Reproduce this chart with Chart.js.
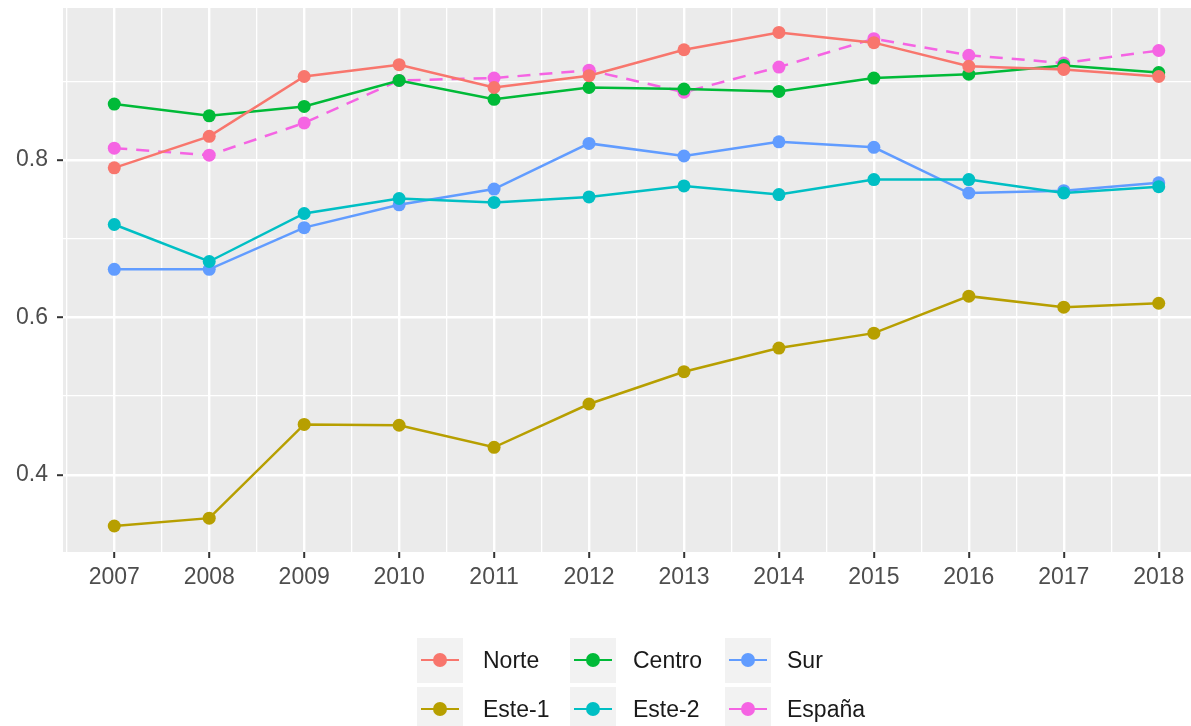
<!DOCTYPE html>
<html>
<head>
<meta charset="utf-8">
<script src="https://cdn.jsdelivr.net/npm/chart.js@4/dist/chart.umd.min.js"></script>
<style>
  html, body { margin: 0; padding: 0; background: #fff; }
  #wrap { position: relative; width: 1191px; height: 726px; overflow: hidden; font-family: "Liberation Sans", Arial, sans-serif; }
  #c { position: absolute; left: 0; top: 0; }
  .key { position: absolute; width: 46px; height: 45px; background: #F2F2F2; }
  .key .ln { position: absolute; left: 4px; right: 4px; top: 21px; height: 2px; }
  .key .dt { position: absolute; left: 16px; top: 15px; width: 14px; height: 14px; border-radius: 50%; }
  .lab { position: absolute; font-size: 23px; color: #1a1a1a; line-height: 26px; }
</style>
</head>
<body>
<div id="wrap">
  <canvas id="c" width="1191" height="726"></canvas>
  <div id="legend"></div>
</div>
<script>
const years = [2007, 2008, 2009, 2010, 2011, 2012, 2013, 2014, 2015, 2016, 2017, 2018];
const seriesNames = ["Norte", "Este-1", "Centro", "Este-2", "Sur", "España"];
const norte  = [0.790, 0.830, 0.906, 0.921, 0.892, 0.907, 0.940, 0.962, 0.949, 0.919, 0.915, 0.906];
const este1  = [0.335, 0.345, 0.464, 0.463, 0.435, 0.490, 0.531, 0.561, 0.580, 0.627, 0.613, 0.618];
const centro = [0.871, 0.856, 0.868, 0.901, 0.877, 0.892, 0.890, 0.887, 0.904, 0.909, 0.920, 0.911];
const este2  = [0.718, 0.671, 0.732, 0.751, 0.746, 0.753, 0.767, 0.756, 0.775, 0.775, 0.758, 0.766];
const sur    = [0.661, 0.661, 0.714, 0.743, 0.763, 0.821, 0.805, 0.823, 0.816, 0.758, 0.761, 0.771];
const espana = [0.815, 0.806, 0.847, 0.901, 0.904, 0.914, 0.886, 0.918, 0.954, 0.933, 0.923, 0.939];
const yMajorTicks = [0.4, 0.6, 0.8];
const yMinorTicks = [0.5, 0.7, 0.9];
const xMinorTicks = [2006.5, 2007.5, 2008.5, 2009.5, 2010.5, 2011.5, 2012.5, 2013.5, 2014.5, 2015.5, 2016.5, 2017.5];

const colors = {
  "Norte": "#F8766D", "Este-1": "#B79F00", "Centro": "#00BA38",
  "Este-2": "#00BFC4", "Sur": "#619CFF", "España": "#F564E3"
};
const values = { "Norte": norte, "Este-1": este1, "Centro": centro, "Este-2": este2, "Sur": sur, "España": espana };

const datasets = seriesNames.map(name => ({
  label: name,
  data: years.map((y, i) => ({ x: y, y: values[name][i] })),
  borderColor: colors[name],
  backgroundColor: colors[name],
  borderWidth: 2.5,
  pointRadius: 6.5,
  pointHoverRadius: 6.5,
  pointBorderWidth: 0,
  borderDash: name === "España" ? [13, 9] : [],
  tension: 0
}));

const panelBg = {
  id: 'panelBg',
  beforeDraw(chart) {
    const { ctx, chartArea: a } = chart;
    ctx.save();
    ctx.fillStyle = '#EBEBEB';
    ctx.fillRect(a.left, a.top, a.right - a.left, a.bottom - a.top);
    ctx.restore();
  }
};

const isMajorY = v => yMajorTicks.some(t => Math.abs(t - v) < 1e-6);
const isMajorX = v => Math.abs(v - Math.round(v)) < 1e-6;
const noPad = s => { s.paddingTop = 0; s.paddingBottom = 0; s.paddingLeft = 0; s.paddingRight = 0; };

new Chart(document.getElementById('c'), {
  type: 'line',
  data: { datasets },
  plugins: [panelBg],
  options: {
    responsive: false,
    animation: false,
    layout: { autoPadding: false, padding: { left: 0, right: 0, top: 8, bottom: 134 } },
    plugins: { legend: { display: false }, tooltip: { enabled: false } },
    scales: {
      x: {
        type: 'linear',
        min: 2006.46, max: 2018.34,
        afterBuildTicks: s => { s.ticks = years.concat(xMinorTicks).sort((a, b) => a - b).map(v => ({ value: v })); },
        afterFit: s => { s.height = 40; noPad(s); },
        border: { display: false },
        grid: {
          color: '#FFFFFF',
          lineWidth: c => isMajorX(c.tick.value) ? 2.4 : 1.3,
          tickColor: c => isMajorX(c.tick.value) ? '#333333' : 'rgba(0,0,0,0)',
          tickLength: 6,
          tickWidth: 2
        },
        ticks: {
          autoSkip: false,
          maxRotation: 0,
          padding: 6,
          color: '#4D4D4D',
          font: { family: '"Liberation Sans", Arial, sans-serif', size: 23 },
          callback: v => isMajorX(v) ? String(Math.round(v)) : ''
        }
      },
      y: {
        type: 'linear',
        min: 0.302, max: 0.993,
        afterBuildTicks: s => { s.ticks = yMajorTicks.concat(yMinorTicks).sort((a, b) => a - b).map(v => ({ value: v })); },
        afterFit: s => { s.width = 63; noPad(s); },
        border: { display: false },
        grid: {
          color: '#FFFFFF',
          lineWidth: c => isMajorY(c.tick.value) ? 2.4 : 1.3,
          tickColor: c => isMajorY(c.tick.value) ? '#333333' : 'rgba(0,0,0,0)',
          tickLength: 6,
          tickWidth: 2
        },
        ticks: {
          autoSkip: false,
          padding: 9,
          color: '#4D4D4D',
          font: { family: '"Liberation Sans", Arial, sans-serif', size: 23 },
          callback: v => isMajorY(v) ? v.toFixed(1) : ''
        }
      }
    }
  }
});

// Legend (ggplot-style, 2 rows x 3 columns, filled by column)
const legendLayout = [
  { name: "Norte",  col: 0, row: 0 }, { name: "Este-1", col: 0, row: 1 },
  { name: "Centro", col: 1, row: 0 }, { name: "Este-2", col: 1, row: 1 },
  { name: "Sur",    col: 2, row: 0 }, { name: "España", col: 2, row: 1 }
];
const colKeyX = [417, 570, 725];
const colLabX = [483, 633, 787];
const rowKeyY = [638, 687];
const leg = document.getElementById('legend');
legendLayout.forEach(item => {
  const k = document.createElement('div');
  k.className = 'key';
  k.style.left = colKeyX[item.col] + 'px';
  k.style.top = rowKeyY[item.row] + 'px';
  const ln = document.createElement('div'); ln.className = 'ln'; ln.style.background = colors[item.name];
  const dt = document.createElement('div'); dt.className = 'dt'; dt.style.background = colors[item.name];
  k.appendChild(ln); k.appendChild(dt);
  leg.appendChild(k);
  const t = document.createElement('div');
  t.className = 'lab';
  t.textContent = item.name;
  t.style.left = colLabX[item.col] + 'px';
  t.style.top = (rowKeyY[item.row] + 22 - 13) + 'px';
  leg.appendChild(t);
});
</script>
</body>
</html>
